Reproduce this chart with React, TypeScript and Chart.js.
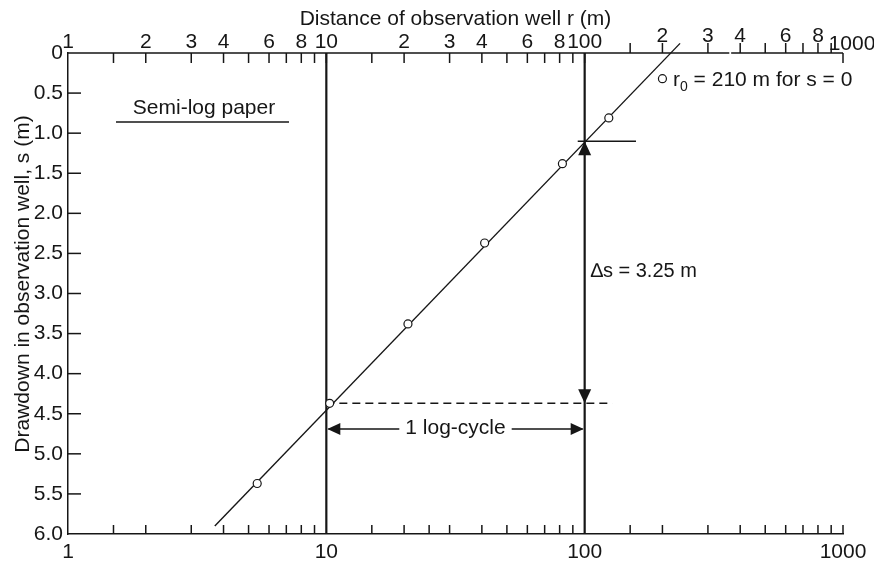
import React, { useEffect, useRef } from "react";
import { Chart, registerables } from "chart.js";

Chart.register(...registerables);

// ---- data ----
const obsDistance = [5.4, 10.3, 20.7, 41, 82, 124, 200];
const obsDrawdown = [5.37, 4.37, 3.38, 2.37, 1.38, 0.81, 0.32];
const fitDistance = [3.7, 234];
const fitDrawdown = [5.9, -0.12];
const cycleStart = 10;
const cycleEnd = 100;
const sAtCycleEnd = 1.1;
const sAtCycleStart = 4.37;
const markerLineDistance = [94, 158];
const dashedLineEnd = 128;
const logCycleArrowS = 4.69;
const bottomLabels = [1, 10, 100, 1000];
const minorTicks = [
  1.5, 2, 3, 4, 5, 6, 7, 8, 9,
  15, 20, 25, 30, 40, 50, 60, 70, 80, 90,
  150, 200, 300, 400, 500, 600, 700, 800, 900, 1000,
];
const topTicks = [
  1.5, 2, 3, 4, 5, 6, 7, 8, 9, 10,
  15, 20, 30, 40, 50, 60, 70, 80, 90, 100,
  150, 200, 300, 400, 500, 600, 700, 800, 900, 1000,
];
const topLabelValues = [1, 2, 3, 4, 6, 8, 10, 20, 30, 40, 60, 80, 100, 200, 300, 400, 600, 800, 1000];
const topLabelTexts = ["1", "2", "3", "4", "6", "8", "10", "2", "3", "4", "6", "8", "100", "2", "3", "4", "6", "8", "1000"];
const yTickValues = [0.5, 1, 1.5, 2, 2.5, 3, 3.5, 4, 4.5, 5, 5.5];
const topAxisBreak = [363, 369];
const topTitle = "Distance of observation well r (m)";
const yTitle = "Drawdown in observation well, s (m)";
const paperLabel = "Semi-log paper";
const deltaLabel = "\u2206s = 3.25 m";
const cycleLabel = "1 log-cycle";
const r0Label = ["r", "0", " = 210 m for s = 0"];

const FONT = '"Liberation Sans", Arial, Helvetica, sans-serif';
const INK = "#161616";

export default function App() {
  const ref = useRef<HTMLCanvasElement>(null);

  useEffect(() => {
    if (!ref.current) return;

    const pts = (xs: number[], ys: number[]) => xs.map((v, i) => ({ x: v, y: ys[i] }));

    const overlay = {
      id: "semilogOverlay",
      afterDatasetsDraw(chart: any) {
        const { ctx, chartArea: a, scales } = chart;
        const x = scales.x;
        const y = scales.y;
        const px = (v: number) => x.getPixelForValue(v);
        const py = (v: number) => y.getPixelForValue(v);
        ctx.save();
        ctx.strokeStyle = INK;
        ctx.fillStyle = INK;
        ctx.lineWidth = 1.5;
        ctx.lineCap = "butt";

        // top axis line (with a small break like the printed paper)
        ctx.beginPath();
        ctx.moveTo(a.left, a.top);
        ctx.lineTo(px(topAxisBreak[0]), a.top);
        ctx.moveTo(px(topAxisBreak[1]), a.top);
        ctx.lineTo(a.right, a.top);
        ctx.stroke();

        // top ticks
        topTicks.forEach((v) => {
          const xx = px(v);
          const up = v > 100 && v < 1000;
          ctx.beginPath();
          ctx.moveTo(xx, a.top);
          ctx.lineTo(xx, up ? a.top - 10 : a.top + 10);
          ctx.stroke();
        });

        // bottom minor ticks
        minorTicks.forEach((v) => {
          const xx = px(v);
          ctx.beginPath();
          ctx.moveTo(xx, a.bottom);
          ctx.lineTo(xx, a.bottom - 9);
          ctx.stroke();
        });

        // y ticks (inward)
        yTickValues.forEach((v) => {
          const yy = py(v);
          ctx.beginPath();
          ctx.moveTo(a.left, yy);
          ctx.lineTo(a.left + 13, yy);
          ctx.stroke();
        });

        // top labels
        ctx.font = `21px ${FONT}`;
        ctx.textAlign = "center";
        ctx.textBaseline = "alphabetic";
        topLabelValues.forEach((v, i) => {
          let xx = px(v);
          let base = a.top - 5;
          if (v > 100 && v < 1000) base = a.top - 11;
          if (v === 1000) {
            xx += 9;
            base = a.top - 3;
          }
          ctx.fillText(topLabelTexts[i], xx, base);
        });

        // titles
        ctx.fillText(topTitle, (a.left + a.right) / 2, 25);
        ctx.save();
        ctx.translate(29, 284);
        ctx.rotate(-Math.PI / 2);
        ctx.fillText(yTitle, 0, 0);
        ctx.restore();

        // Semi-log paper label
        ctx.fillText(paperLabel, 204, 114);
        ctx.beginPath();
        ctx.moveTo(116, 122);
        ctx.lineTo(289, 122);
        ctx.stroke();

        // arrows on vertical line at cycleEnd
        const xe = px(cycleEnd);
        const tri = (p: number[][]) => {
          ctx.beginPath();
          ctx.moveTo(p[0][0], p[0][1]);
          ctx.lineTo(p[1][0], p[1][1]);
          ctx.lineTo(p[2][0], p[2][1]);
          ctx.closePath();
          ctx.fill();
        };
        const yTop = py(sAtCycleEnd);
        const yBot = py(sAtCycleStart);
        tri([[xe, yTop], [xe - 6.5, yTop + 14], [xe + 6.5, yTop + 14]]);
        tri([[xe, yBot], [xe - 6.5, yBot - 14], [xe + 6.5, yBot - 14]]);

        // delta s label
        ctx.font = `20px ${FONT}`;
        ctx.textAlign = "left";
        ctx.fillText(deltaLabel, xe + 6, 277);

        // 1 log-cycle arrow
        ctx.font = `21px ${FONT}`;
        const xs = px(cycleStart);
        const yc = py(logCycleArrowS);
        ctx.textAlign = "center";
        const mid = (xs + xe) / 2;
        const tw = ctx.measureText(cycleLabel).width;
        ctx.fillText(cycleLabel, mid, yc + 5);
        ctx.lineWidth = 1.5;
        ctx.beginPath();
        ctx.moveTo(xs + 2, yc);
        ctx.lineTo(mid - tw / 2 - 6, yc);
        ctx.moveTo(mid + tw / 2 + 6, yc);
        ctx.lineTo(xe - 2, yc);
        ctx.stroke();
        tri([[xs + 1, yc], [xs + 14, yc - 6], [xs + 14, yc + 6]]);
        tri([[xe - 1, yc], [xe - 14, yc - 6], [xe - 14, yc + 6]]);

        // r0 label
        const r0x = 673;
        const r0y = 86;
        ctx.font = `21px ${FONT}`;
        ctx.textAlign = "left";
        ctx.fillText(r0Label[0], r0x, r0y);
        const w0 = ctx.measureText(r0Label[0]).width;
        ctx.font = `14px ${FONT}`;
        ctx.fillText(r0Label[1], r0x + w0, r0y + 5);
        const w1 = ctx.measureText(r0Label[1]).width;
        ctx.font = `21px ${FONT}`;
        ctx.fillText(r0Label[2], r0x + w0 + w1, r0y);

        ctx.restore();
      },
    };

    const chart = new Chart(ref.current, {
      type: "scatter",
      data: {
        datasets: [
          {
            label: "observed",
            data: pts(obsDistance, obsDrawdown),
            pointRadius: 4,
            pointBackgroundColor: "#ffffff",
            pointBorderColor: INK,
            pointBorderWidth: 1.2,
            showLine: false,
            clip: false,
          },
          {
            label: "fit",
            data: pts(fitDistance, fitDrawdown),
            showLine: true,
            borderColor: INK,
            borderWidth: 1.4,
            pointRadius: 0,
            clip: false,
          },
          {
            label: "r10",
            data: pts([cycleStart, cycleStart], [0, 6]),
            showLine: true,
            borderColor: INK,
            borderWidth: 2.2,
            pointRadius: 0,
          },
          {
            label: "r100",
            data: pts([cycleEnd, cycleEnd], [0, 6]),
            showLine: true,
            borderColor: INK,
            borderWidth: 2.2,
            pointRadius: 0,
          },
          {
            label: "mark",
            data: pts(markerLineDistance, [sAtCycleEnd, sAtCycleEnd]),
            showLine: true,
            borderColor: INK,
            borderWidth: 1.5,
            pointRadius: 0,
          },
          {
            label: "dashed",
            data: pts([cycleStart, dashedLineEnd], [sAtCycleStart, sAtCycleStart]),
            showLine: true,
            borderColor: INK,
            borderWidth: 1.5,
            borderDash: [8, 5],
            pointRadius: 0,
          },
        ],
      },
      options: {
        responsive: false,
        animation: false,
        devicePixelRatio: 1,
        layout: { padding: { top: 53, right: 31, left: 0, bottom: 0 } },
        plugins: { legend: { display: false }, tooltip: { enabled: false } },
        scales: {
          x: {
            type: "logarithmic",
            position: "bottom",
            min: 1,
            max: 1000,
            afterBuildTicks: (s: any) => {
              s.ticks = bottomLabels.map((v) => ({ value: v }));
            },
            afterFit: (s: any) => {
              s.height = 27;
            },
            grid: { display: false, drawTicks: false },
            border: { display: true, color: INK, width: 1.5 },
            ticks: {
              color: INK,
              font: { family: FONT, size: 21 },
              padding: 6,
              maxRotation: 0,
              autoSkip: false,
              callback: (v: any) => String(v),
            },
          },
          y: {
            type: "linear",
            reverse: true,
            min: 0,
            max: 6,
            afterBuildTicks: (s: any) => {
              s.ticks = [0, ...yTickValues, 6].map((v) => ({ value: v }));
            },
            afterFit: (s: any) => {
              s.width = 68;
            },
            grid: { display: false, drawTicks: false },
            border: { display: true, color: INK, width: 1.5 },
            ticks: {
              color: INK,
              font: { family: FONT, size: 21 },
              padding: 5,
              autoSkip: false,
              callback: (v: any) => (v === 0 ? "0" : Number(v).toFixed(1)),
            },
          },
        },
      },
      plugins: [overlay],
    });

    return () => chart.destroy();
  }, []);

  return (
    <div style={{ position: "fixed", left: 0, top: 0, width: 874, height: 561, background: "#fff" }}>
      <canvas ref={ref} width={874} height={561} style={{ display: "block" }} />
    </div>
  );
}
